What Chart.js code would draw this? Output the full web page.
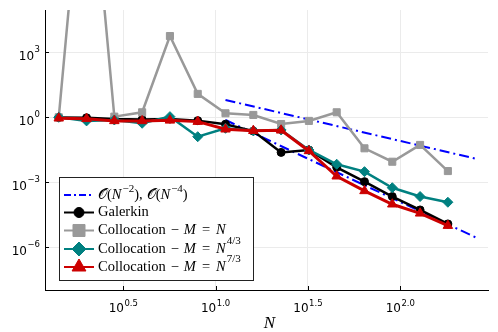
<!DOCTYPE html>
<html>
<head>
<meta charset="utf-8">
<script src="https://cdn.jsdelivr.net/npm/chart.js@4"></script>
<style>
  html, body { margin: 0; padding: 0; background: #fff; }
  #wrap { width: 498px; height: 332px; }
</style>
</head>
<body>
<div id="wrap"><canvas id="errChart" width="498" height="332"></canvas></div>
<script>
// N = sqrt(2)^k, k = 1..15
const N = [1.414, 2, 2.828, 4, 5.657, 8, 11.31, 16, 22.63, 32, 45.25, 64, 90.51, 128, 181.0];

const galerkin = [0.98, 0.95, 0.83, 0.79, 0.83, 0.70, 0.48, 0.23, 0.024, 0.031, 0.0049, 0.00107, 2.2e-4, 5.3e-5, 1.2e-5];
const collocM1 = [1.0, 1e14, 1.07, 1.7, 5600, 12, 1.53, 1.28, 0.49, 0.68, 1.7, 0.037, 0.0089, 0.053, 0.0033];
const collocM43 = [1.0, 0.68, 0.75, 0.53, 1.07, 0.127, 0.31, 0.24, 0.26, 0.031, 0.0068, 0.0031, 5.6e-4, 2.2e-4, 1.2e-4];
const collocM73 = [0.9, 0.85, 0.68, 0.68, 0.72, 0.63, 0.28, 0.24, 0.25, 0.028, 0.0019, 4.0e-4, 9.7e-5, 3.7e-5, 1.0e-5];

// reference slopes, end points
const refN = [11.31, 256];
const refOrder2 = [6.3, 0.0123];
const refOrder4 = [0.75, 2.86e-6];

// tick exponents (labels are 10^e)
const xTickExp = [0.5, 1.0, 1.5, 2.0];
const yTickExp = [-6, -3, 0, 3];

const BLUE = "#0000ff", BLACK = "#000000", GRAY = "#999999", TEAL = "#008080", RED = "#cc0000";

const pts = (xs, ys) => xs.map((v, i) => ({ x: v, y: ys[i] }));

function series(label, ys, color, style, radius, order, width) {
    return {
        label,
        data: pts(N, ys),
        borderColor: color,
        backgroundColor: color,
        borderWidth: width || 2.5,
        pointStyle: style,
        pointRadius: radius,
        pointHoverRadius: radius,
        pointBorderWidth: 1,
        pointBorderColor: color,
        pointBackgroundColor: color,
        tension: 0,
        order
    };
}

function refLine(ys) {
    return {
        label: "ref",
        data: pts(refN, ys),
        borderColor: BLUE,
        borderWidth: 2,
        borderDash: [10, 4, 2, 4],
        pointRadius: 0,
        tension: 0,
        order: 10
    };
}

// draws a sequence of text pieces; each piece has its own font and offset
function richText(ctx, parts, x, y) {
    ctx.textBaseline = "middle";
    ctx.textAlign = "left";
    parts.forEach(p => {
        ctx.font = p.font;
        x += p.pre || 0;
        ctx.fillText(p.t, x, y + (p.dy || 0));
        x += ctx.measureText(p.t).width + (p.post || 0);
    });
    return x;
}

function powWidth(ctx, exp) {
    ctx.font = '12px "DejaVu Sans"';
    const w1 = ctx.measureText("10").width;
    ctx.font = '8.5px "DejaVu Sans"';
    return w1 + ctx.measureText(exp).width + 0.5;
}

function powLabel(ctx, exp, left, y, supDy) {
    richText(ctx, [
        { t: "10", font: '12px "DejaVu Sans"' },
        { t: exp, font: '8.5px "DejaVu Sans"', dy: supDy, pre: 0.5 }
    ], left, y);
}

const RM = '14.5px "Liberation Serif"';
const IT = 'italic 14.5px "Liberation Serif"';
const SUP = '11px "Liberation Serif"';
const SCR = '14.5px "DejaVu Serif", "DejaVu Sans", "Noto Sans"';

function collocParts(exp) {
    const parts = [
        { t: "Collocation", font: RM },
        { t: "\u2212", font: RM, pre: 5 },
        { t: "M", font: IT, pre: 5 },
        { t: "=", font: RM, pre: 6 },
        { t: "N", font: IT, pre: 6 }
    ];
    if (exp) parts.push({ t: exp, font: SUP, dy: -8, pre: 1 });
    return parts;
}

const legendRows = [
    { y: 195, color: BLUE, dash: [7, 3, 2, 3], style: false, r: 0, parts: [
        { t: "\uD835\uDCAA", font: SCR }, { t: "(", font: RM }, { t: "N", font: IT },
        { t: "\u22122", font: SUP, dy: -6, pre: 1 }, { t: "),", font: RM, post: 4 },
        { t: "\uD835\uDCAA", font: SCR }, { t: "(", font: RM }, { t: "N", font: IT },
        { t: "\u22124", font: SUP, dy: -6, pre: 1 }, { t: ")", font: RM }
    ] },
    { y: 212.5, color: BLACK, style: "circle", r: 5, parts: [{ t: "Galerkin", font: RM }] },
    { y: 230.5, color: GRAY, style: "rect", r: 8.5, parts: collocParts(null) },
    { y: 249, color: TEAL, style: "rectRot", r: 7, parts: collocParts("4/3") },
    { y: 267, color: RED, style: "triangle", r: 8, parts: collocParts("7/3") }
];

const decorations = {
    id: "decorations",
    afterDraw(chart) {
        const { ctx, chartArea: a, scales: { x, y } } = chart;
        ctx.save();

        // inward tick marks
        ctx.strokeStyle = "#000";
        ctx.lineWidth = 1;
        ctx.beginPath();
        xTickExp.forEach(e => {
            const px = Math.round(x.getPixelForValue(10 ** e)) + 0.5;
            ctx.moveTo(px, a.bottom);
            ctx.lineTo(px, a.bottom - 4);
        });
        yTickExp.forEach(e => {
            const py = Math.round(y.getPixelForValue(10 ** e)) + 0.5;
            ctx.moveTo(a.left, py);
            ctx.lineTo(a.left + 4, py);
        });
        ctx.stroke();

        // tick labels
        ctx.fillStyle = "#000";
        xTickExp.forEach(e => {
            const s = e.toFixed(1);
            const px = x.getPixelForValue(10 ** e);
            powLabel(ctx, s, px - powWidth(ctx, s) / 2, a.bottom + 19, -5.5);
        });
        yTickExp.forEach(e => {
            const s = e < 0 ? "\u2212" + Math.abs(e) : String(e);
            const py = y.getPixelForValue(10 ** e);
            powLabel(ctx, s, a.left - 5 - powWidth(ctx, s), py + 5, -7.5);
        });

        // axis title
        ctx.font = 'italic 17px "Liberation Serif"';
        ctx.textAlign = "center";
        ctx.textBaseline = "middle";
        ctx.fillText("N", (a.left + a.right) / 2 + 3, 324);

        // legend
        ctx.fillStyle = "#fff";
        ctx.fillRect(59.5, 177.5, 194, 103);
        ctx.strokeStyle = "#222";
        ctx.lineWidth = 1;
        ctx.strokeRect(59.5, 177.5, 194, 103);

        legendRows.forEach(row => {
            ctx.save();
            ctx.strokeStyle = row.color;
            ctx.lineWidth = 2;
            ctx.setLineDash(row.dash || []);
            ctx.beginPath();
            ctx.moveTo(64, row.y);
            ctx.lineTo(94, row.y);
            ctx.stroke();
            ctx.setLineDash([]);
            if (row.style) {
                ctx.fillStyle = row.color;
                ctx.lineWidth = 1;
                Chart.helpers.drawPoint(ctx, { pointStyle: row.style, radius: row.r, rotation: 0, borderWidth: 1 }, 79, row.y);
            }
            ctx.restore();
            ctx.fillStyle = "#000";
            richText(ctx, row.parts, 98, row.y);
        });

        ctx.restore();
    }
};

new Chart(document.getElementById("errChart"), {
    type: "line",
    data: {
        datasets: [
            refLine(refOrder2),
            refLine(refOrder4),
            series("Galerkin", galerkin, BLACK, "circle", 4, 4),
            series("Collocation M = N", collocM1, GRAY, "rect", 5, 3),
            series("Collocation M = N^4/3", collocM43, TEAL, "rectRot", 5, 2),
            series("Collocation M = N^7/3", collocM73, RED, "triangle", 5.5, 1, 3)
        ]
    },
    options: {
        responsive: false,
        animation: false,
        devicePixelRatio: 1,
        layout: { padding: { left: 45, right: 10, top: 10, bottom: 42 } },
        plugins: {
            legend: { display: false },
            tooltip: { enabled: false }
        },
        scales: {
            x: {
                type: "logarithmic",
                min: 10 ** 0.076,
                max: 10 ** 2.475,
                afterBuildTicks: s => { s.ticks = xTickExp.map(e => ({ value: 10 ** e })); },
                ticks: { display: false },
                grid: { color: "#ebebeb", lineWidth: 1, drawTicks: false },
                border: { color: "#000", width: 1 }
            },
            y: {
                type: "logarithmic",
                min: 10 ** -7.97,
                max: 10 ** 4.95,
                afterBuildTicks: s => { s.ticks = yTickExp.map(e => ({ value: 10 ** e })); },
                ticks: { display: false },
                grid: { color: "#ebebeb", lineWidth: 1, drawTicks: false },
                border: { color: "#000", width: 1 }
            }
        }
    },
    plugins: [decorations]
});
</script>
</body>
</html>
